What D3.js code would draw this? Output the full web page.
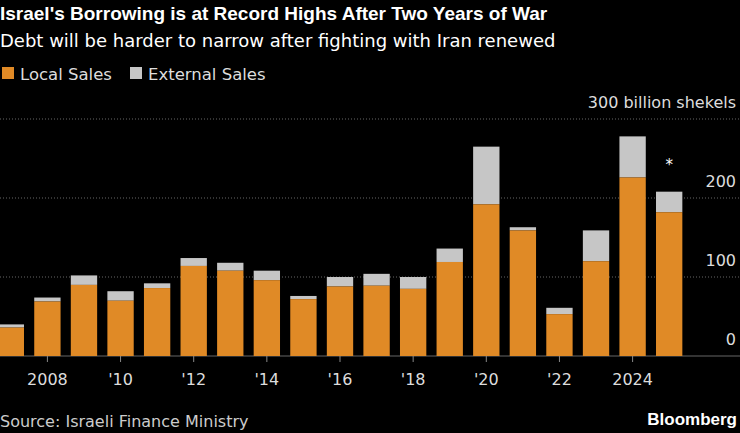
<!DOCTYPE html>
<html><head><meta charset="utf-8">
<script src="https://cdn.jsdelivr.net/npm/d3@7"></script>
<style>body{margin:0;background:#000}text{font-family:"DejaVu Sans",sans-serif}</style>
</head><body><svg id="c" width="740" height="433"></svg>
<script>
/* ----------- DATOS ----------- */
const years = [2007,2008,2009,2010,2011,2012,2013,2014,2015,2016,2017,2018,2019,2020,2021,2022,2023,2024,2025];
const localSales = [36,69,90,70,86,114,108,96,72,88,89,85,119,192,159,53,120,226,182];
const totalSales = [40,74,102,82,92,124,118,108,76,100,104,100,136,265,163,61,159,278,208];
const yTicks = [0,100,200,300];
const xTickYears = [2008,2010,2012,2014,2016,2018,2020,2022,2024];

const svg = d3.select("#c");
const x = d3.scaleBand().domain(years).range([-6, 686]).paddingInner(0.28).paddingOuter(0.1);
const y = d3.scaleLinear().domain([0,300]).range([356,119]);

/* ----------- TITULOS ----------- */
svg.append("text").attr("x",0).attr("y",20).attr("fill","#fff").attr("font-size",19).attr("font-weight","bold")
  .style("font-family","'Liberation Sans',Arial,sans-serif")
  .text("Israel's Borrowing is at Record Highs After Two Years of War");
svg.append("text").attr("x",0).attr("y",47).attr("fill","#fff").attr("font-size",18)
  .text("Debt will be harder to narrow after fighting with Iran renewed");

const leg = [["Local Sales","#e08a26",0],["External Sales","#c6c6c6",128]];
leg.forEach(d=>{
  svg.append("rect").attr("x",d[2]+2).attr("y",67).attr("width",12).attr("height",12).attr("fill",d[1]);
  svg.append("text").attr("x",d[2]+20).attr("y",80).attr("fill","#ddd").attr("font-size",16.5).text(d[0]);
});

/* ----------- GRILLA ----------- */
yTicks.forEach(t=>{
  svg.append("line").attr("x1",0).attr("x2",740).attr("y1",y(t)).attr("y2",y(t))
    .attr("stroke","#666").attr("stroke-dasharray", t===0?null:"1,2");
  svg.append("text").attr("x",736).attr("y",y(t)-11).attr("text-anchor","end").attr("fill","#ddd").attr("font-size",16)
    .text(t===300?"300 billion shekels":t);
});

/* ----------- BARRAS ----------- */
svg.selectAll(".ext").data(years).join("rect")
  .attr("x",d=>x(d)).attr("width",x.bandwidth())
  .attr("y",(d,i)=>y(totalSales[i])).attr("height",(d,i)=>y(localSales[i])-y(totalSales[i]))
  .attr("fill","#c6c6c6");
svg.selectAll(".loc").data(years).join("rect")
  .attr("x",d=>x(d)).attr("width",x.bandwidth())
  .attr("y",(d,i)=>y(localSales[i])).attr("height",(d,i)=>y(0)-y(localSales[i]))
  .attr("fill","#e08a26");

svg.append("text").attr("x",x(2025)+x.bandwidth()/2).attr("y",y(totalSales[18])-22)
  .attr("text-anchor","middle").attr("fill","#fff").attr("font-size",15).text("*");

/* ----------- EJE X ----------- */
xTickYears.forEach(yr=>{
  const cx = x(yr)+x.bandwidth()/2;
  svg.append("line").attr("x1",cx).attr("x2",cx).attr("y1",356).attr("y2",362).attr("stroke","#888");
  svg.append("text").attr("x",cx).attr("y",385).attr("text-anchor","middle").attr("fill","#ddd").attr("font-size",16)
    .text(yr===2008 || yr===2024 ? yr : "'"+String(yr).slice(2));
});

svg.append("text").attr("x",0).attr("y",427).attr("fill","#ccc").attr("font-size",16).text("Source: Israeli Finance Ministry");
svg.append("text").attr("x",737).attr("y",425).attr("text-anchor","end").attr("fill","#fff").attr("font-size",17).attr("font-weight","bold")
  .style("font-family","'Liberation Sans',Arial,sans-serif").text("Bloomberg");
</script></body></html>
